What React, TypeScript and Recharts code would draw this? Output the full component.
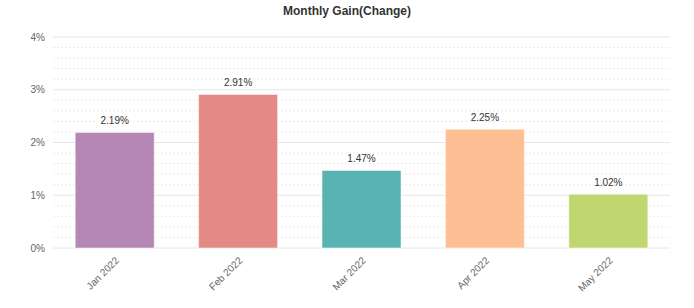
import { Bar, BarChart, CartesianGrid, Cell, LabelList, XAxis, YAxis } from "recharts";

const months = ["Jan 2022", "Feb 2022", "Mar 2022", "Apr 2022", "May 2022"];
const gains = [2.19, 2.91, 1.47, 2.25, 1.02];
const barColors = ["#b487b5", "#e38986", "#5ab3b3", "#ffbf94", "#bfd76e"];
// major ticks every 1%, minor grid every 0.2%
const yTicks = [
  0, 0.2, 0.4, 0.6, 0.8, 1, 1.2, 1.4, 1.6, 1.8, 2, 2.2, 2.4, 2.6, 2.8, 3, 3.2, 3.4, 3.6,
  3.8, 4,
];

const data = months.map((month, i) => ({ month, gain: gains[i] }));

const isMajor = (v: number) => Math.abs(v - Math.round(v)) < 1e-6;

const GridLine = (props: any) => {
  const { x1, x2, y1, y2, index } = props;
  const major = isMajor(yTicks[index] ?? 0);
  return (
    <line
      x1={x1}
      x2={x2}
      y1={y1}
      y2={y2}
      stroke={major ? "#e6e6e6" : "#ececec"}
      strokeWidth={1}
      strokeDasharray={major ? undefined : "2 2"}
    />
  );
};

export default function App() {
  return (
    <div
      style={{
        position: "absolute",
        left: 0,
        top: 0,
        width: 694,
        height: 308,
        background: "#fff",
        fontFamily: "'Liberation Sans', Arial, sans-serif",
      }}
    >
      <div
        style={{
          position: "absolute",
          top: 4,
          width: 694,
          textAlign: "center",
          fontSize: 12,
          fontWeight: "bold",
          color: "#333",
        }}
      >
        Monthly Gain(Change)
      </div>
      <BarChart
        width={694}
        height={308}
        data={data}
        margin={{ top: 37, right: 24, bottom: 10, left: 8 }}
        barCategoryGap="18%"
      >
        <CartesianGrid vertical={false} horizontal={(p: any) => <GridLine {...p} />} />
        <XAxis
          dataKey="month"
          axisLine={false}
          tickLine={false}
          interval={0}
          angle={-45}
          textAnchor="end"
          height={50}
          tick={{ fontSize: 10, fill: "#666" }}
        />
        <YAxis
          domain={[0, 4]}
          ticks={yTicks}
          interval={0}
          width={45}
          axisLine={false}
          tickLine={false}
          tickFormatter={(v: number) => (isMajor(v) ? `${Math.round(v)}%` : "")}
          tick={{ fontSize: 10, fill: "#666" }}
        />
        <Bar dataKey="gain" isAnimationActive={false} stroke="rgba(255,255,255,0.5)">
          {data.map((d, i) => (
            <Cell key={d.month} fill={barColors[i]} />
          ))}
          <LabelList
            dataKey="gain"
            position="top"
            offset={8}
            formatter={(v: number) => `${v.toFixed(2)}%`}
            style={{ fontSize: 10, fill: "#333" }}
          />
        </Bar>
      </BarChart>
    </div>
  );
}
